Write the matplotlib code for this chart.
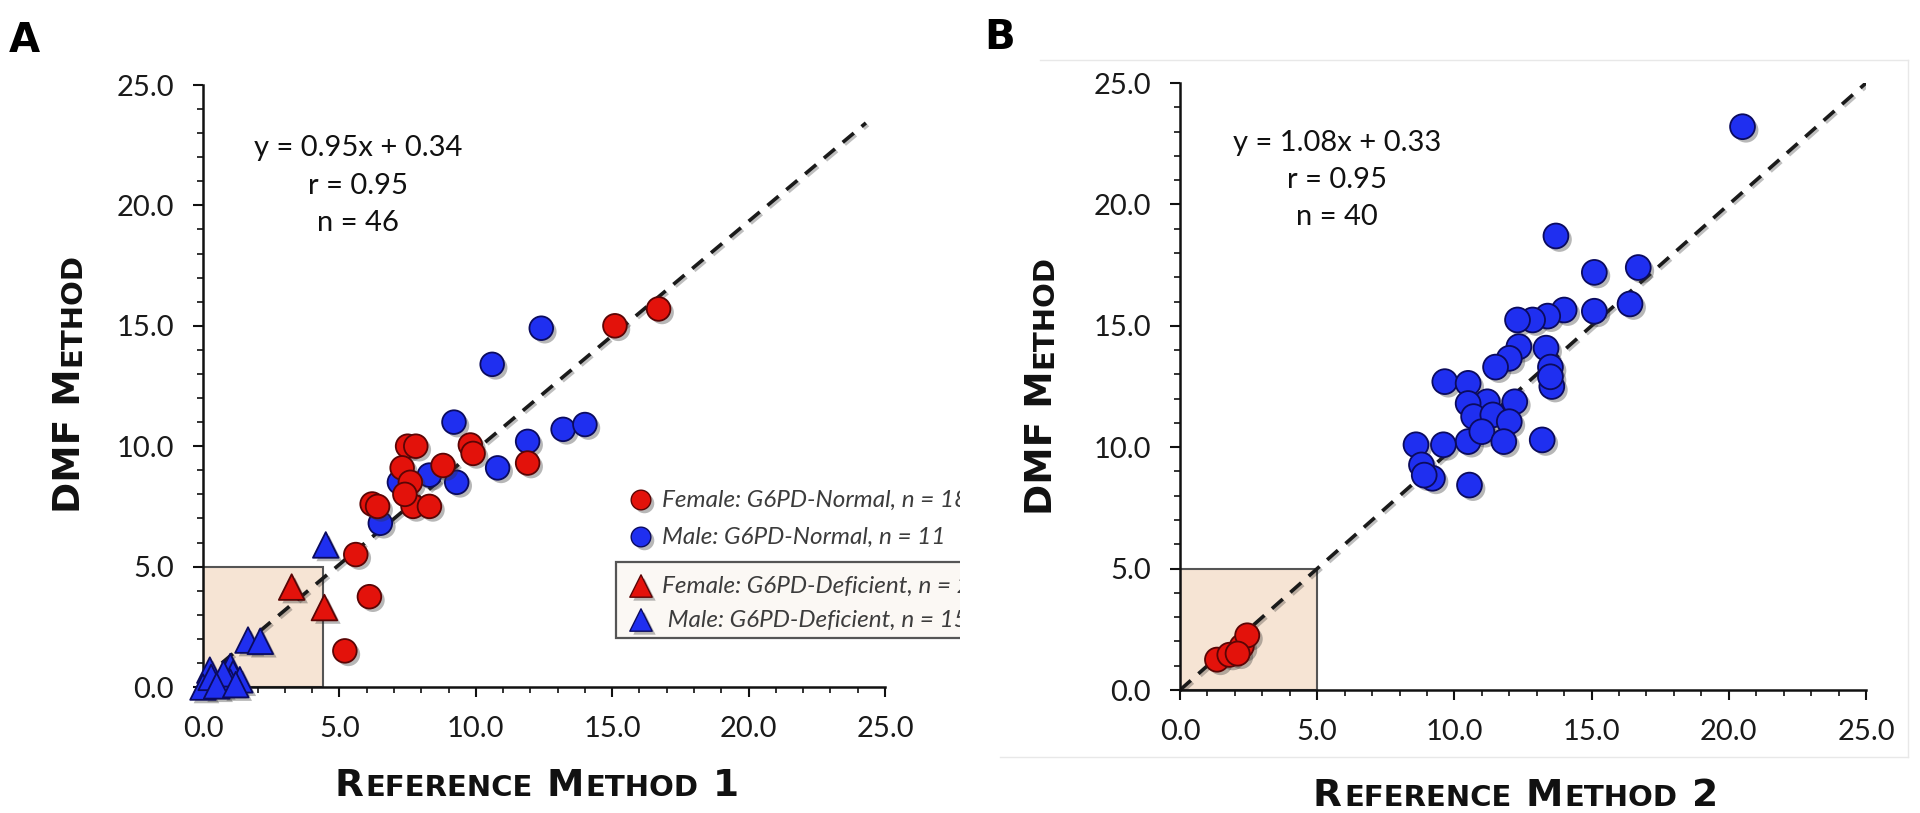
import matplotlib
matplotlib.use('Agg')
import matplotlib.pyplot as plt
import matplotlib.patheffects as pe
from matplotlib.patches import Rectangle
from matplotlib.ticker import MultipleLocator, FormatStrFormatter

# ---- panel A : DMF vs reference method 1 ----
a_fn_x = [16.7, 15.1, 11.9, 9.8, 9.9, 7.5, 7.8, 7.3, 7.6, 8.8, 7.7, 8.3, 6.2, 6.4, 5.6, 6.1, 5.2, 7.4]
a_fn_y = [15.7, 15.0, 9.3, 10.05, 9.7, 10.0, 10.0, 9.1, 8.5, 9.2, 7.5, 7.5, 7.6, 7.5, 5.5, 3.75, 1.5, 8.0]
a_mn_x = [12.4, 10.6, 9.2, 11.9, 13.2, 14.0, 10.8, 9.3, 8.3, 7.2, 6.5]
a_mn_y = [14.9, 13.4, 11.0, 10.2, 10.7, 10.9, 9.1, 8.5, 8.8, 8.5, 6.8]
a_fd_x = [3.25, 4.45]
a_fd_y = [4.15, 3.3]
a_md_x = [4.5, 1.65, 2.1, 1.0, 1.1, 0.15, 0.6, 1.0, 0.25, 0.0, 1.35, 0.75, 0.3, 0.5, 1.2]
a_md_y = [5.9, 1.95, 1.9, 0.85, 0.55, 0.3, 0.15, 0.2, 0.7, 0.0, 0.3, 0.55, 0.4, 0.05, 0.1]
a_fit = (0.95, 0.34)
a_line_x = [0.0, 24.3]
a_box = (4.4, 5.0)
a_stats = ['y = 0.95x + 0.34', 'r = 0.95', 'n = 46']
a_legend = ['Female: G6PD-Normal, n = 18', 'Male: G6PD-Normal, n = 11',
            'Female: G6PD-Deficient, n = 2', ' Male: G6PD-Deficient, n = 15']

# ---- panel B : DMF vs reference method 2 ----
b_blue_x = [20.5, 13.7, 15.1, 16.7, 15.1, 16.4, 14.0, 13.4, 12.85, 12.3, 12.35, 13.34,
            12.0, 11.5, 13.5, 13.55, 13.5, 9.65, 10.5, 11.2, 12.2, 10.5, 10.7, 11.4,
            12.0, 10.5, 11.0, 11.8, 13.2, 8.6, 9.6, 8.8, 9.2, 8.9, 10.55]
b_blue_y = [23.2, 18.7, 17.2, 17.4, 15.6, 15.9, 15.65, 15.4, 15.24, 15.24, 14.14, 14.08,
            13.66, 13.3, 13.3, 12.5, 12.9, 12.7, 12.63, 11.87, 11.87, 11.8, 11.26, 11.33,
            11.05, 10.23, 10.64, 10.23, 10.3, 10.1, 10.1, 9.27, 8.72, 8.85, 8.44]
b_red_x = [1.35, 1.8, 2.25, 2.45, 2.1]
b_red_y = [1.25, 1.45, 1.8, 2.25, 1.5]
b_line = [0.0, 25.0]
b_box = (5.0, 5.0)
b_stats = ['y = 1.08x + 0.33', 'r = 0.95', 'n = 40']

RED, RED_E = '#e3120b', '#5a0505'
BLUE, BLUE_E = '#1f2ff0', '#0b0b5e'
TXT = 'Lato'
shadow = [pe.SimplePatchShadow(offset=(2.5, -2.5), shadow_rgbFace='#333333', alpha=0.35), pe.Normal()]

fig = plt.figure(figsize=(19.2, 8.13), dpi=100)
fig.patch.set_facecolor('white')

# background overlay in pixel coords (for labels/frame)
bg = fig.add_axes([0, 0, 1, 1], zorder=0)
bg.set_xlim(0, 1920)
bg.set_ylim(813, 0)
bg.axis('off')


def small_caps(x, y, parts, vertical=False):
    prev = None
    for s, size, gap in parts:
        kw = dict(fontsize=size, fontweight='bold', family='DejaVu Sans', color='#111111',
                  ha='left', va='baseline', annotation_clip=False)
        if vertical:
            kw.update(rotation=90, rotation_mode='anchor')
        if prev is None:
            prev = bg.annotate(s, xy=(x, y), xycoords='figure pixels', **kw)
        elif vertical:
            prev = bg.annotate(s, xy=(x, 1), xycoords=('figure pixels', prev),
                               xytext=(0, gap), textcoords='offset points', **kw)
        else:
            prev = bg.annotate(s, xy=(1, y), xycoords=(prev, 'figure pixels'),
                               xytext=(gap, 0), textcoords='offset points', **kw)


def style_axes(ax):
    ax.set_xlim(0, 25)
    ax.set_ylim(0, 25)
    for side in ['top', 'right']:
        ax.spines[side].set_visible(False)
    for side in ['left', 'bottom']:
        ax.spines[side].set_linewidth(1.8)
        ax.spines[side].set_color('#111111')
    ax.xaxis.set_major_locator(MultipleLocator(5))
    ax.yaxis.set_major_locator(MultipleLocator(5))
    ax.xaxis.set_minor_locator(MultipleLocator(1))
    ax.yaxis.set_minor_locator(MultipleLocator(1))
    ax.xaxis.set_major_formatter(FormatStrFormatter('%.1f'))
    ax.yaxis.set_major_formatter(FormatStrFormatter('%.1f'))
    ax.tick_params(which='major', direction='out', length=7, width=1.5, pad=14,
                   labelsize=21, labelcolor='#1a1a1a', color='#111111')
    ax.tick_params(which='minor', direction='out', length=4.5, width=1.2, color='#111111')
    for lab in ax.get_xticklabels() + ax.get_yticklabels():
        lab.set_family(TXT)


def draw_box(ax, w, h):
    ax.add_patch(Rectangle((0, 0), w, h, facecolor='#f6e4d4', edgecolor='#555555',
                           lw=1.5, zorder=1))


def pts(ax, x, y, col, edge, marker='o', s=290):
    ax.scatter(x, y, s=s, marker=marker, c=col, edgecolors=edge, linewidths=1.3,
               zorder=3, clip_on=False, path_effects=shadow)


# ---------------- panel A ----------------
axA = fig.add_axes([203 / 1920, 1 - 687 / 813, 682 / 1920, 602 / 813], zorder=2)
axA.patch.set_alpha(0)
style_axes(axA)
draw_box(axA, *a_box)
la_y = [a_fit[0] * v + a_fit[1] for v in a_line_x]
axA.plot(a_line_x, la_y, color='#1a1a1a', lw=2.6, ls=(0, (4, 2.8)), zorder=2,
         path_effects=[pe.SimpleLineShadow(offset=(1.5, -1.5), alpha=0.25), pe.Normal()])
pts(axA, a_mn_x, a_mn_y, BLUE, BLUE_E)
pts(axA, a_fn_x, a_fn_y, RED, RED_E)
pts(axA, a_fd_x, a_fd_y, RED, RED_E, marker='^', s=340)
pts(axA, a_md_x, a_md_y, BLUE, BLUE_E, marker='^', s=340)
for i, s in enumerate(a_stats):
    axA.text(0.227, 0.895 - 0.062 * i, s, transform=axA.transAxes, ha='center', va='center',
             fontsize=21, family=TXT, color='#111111')

# ---------------- panel B ----------------
axB = fig.add_axes([1180 / 1920, 1 - 690 / 813, 686 / 1920, 607 / 813], zorder=2)
axB.patch.set_alpha(0)
style_axes(axB)
draw_box(axB, *b_box)
axB.plot(b_line, b_line, color='#1a1a1a', lw=2.6, ls=(0, (4, 2.8)), zorder=2,
         path_effects=[pe.SimpleLineShadow(offset=(1.5, -1.5), alpha=0.25), pe.Normal()])
pts(axB, b_blue_x, b_blue_y, BLUE, BLUE_E, s=320)
pts(axB, b_red_x, b_red_y, RED, RED_E, s=300)
for i, s in enumerate(b_stats):
    axB.text(0.229, 0.901 - 0.061 * i, s, transform=axB.transAxes, ha='center', va='center',
             fontsize=21, family=TXT, color='#111111')

# faint frame around panel B
bg.plot([1040, 1908], [60, 60], color='#e8e8e8', lw=1)
bg.plot([1908, 1908], [60, 757], color='#e8e8e8', lw=1)
bg.plot([1000, 1908], [757, 757], color='#e8e8e8', lw=1)

# panel letters
bg.text(9, 52, 'A', fontsize=29, fontweight='heavy', family='DejaVu Sans', va='baseline')
bg.text(984, 49, 'B', fontsize=29, fontweight='heavy', family='DejaVu Sans', va='baseline')

# axis labels in small caps
big, small = 27, 21
small_caps(334, 813 - 796, [('R', big, 0), ('EFERENCE', small, 1.5), ('M', big, 10),
                            ('ETHOD', small, 1.5), ('1', big, 10)])
small_caps(1313, 813 - 806, [('R', big, 0), ('EFERENCE', small, 1.5), ('M', big, 10),
                             ('ETHOD', small, 1.5), ('2', big, 10)])
small_caps(80, 813 - 513, [('DMF M', big, 0), ('ETHOD', small, 1.5)], vertical=True)
small_caps(1052, 813 - 515, [('DMF M', big, 0), ('ETHOD', small, 1.5)], vertical=True)

# ---------------- legend of panel A (clipped at panel edge) ----------------
leg = fig.add_axes([0, 0, 0.5, 1], zorder=10)
leg.set_xlim(0, 960)
leg.set_ylim(813, 0)
leg.axis('off')
leg.add_patch(Rectangle((616, 562), 400, 76, facecolor='#fbf8f4', edgecolor='#555555', lw=1.6))
leg_marks = [('o', RED, RED_E), ('o', BLUE, BLUE_E), ('^', RED, RED_E), ('^', BLUE, BLUE_E)]
leg_y = [500, 537, 586, 620]
for (m, c, e), yy, s in zip(leg_marks, leg_y, a_legend):
    leg.scatter([641], [yy], s=200 if m == 'o' else 260, marker=m, c=c, edgecolors=e,
                linewidths=1.0, path_effects=shadow)
    leg.text(662, yy, s, va='center', ha='left', fontsize=17.5, style='italic',
             family=TXT, color='#3c3c3c', clip_on=True)

fig.savefig('out.png', dpi=100, facecolor='white')
